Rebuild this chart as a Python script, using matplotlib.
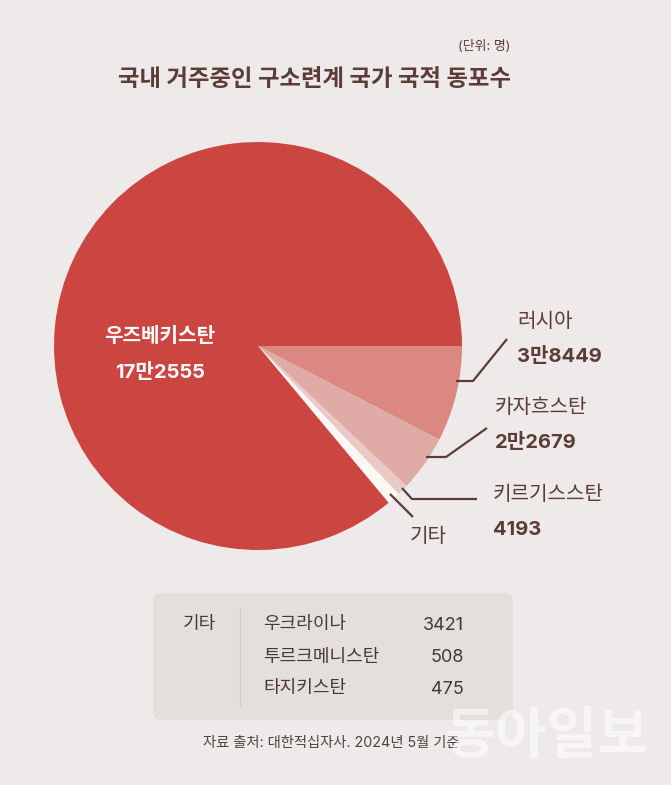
import matplotlib
matplotlib.use("Agg")
import matplotlib.pyplot as plt
from matplotlib.patches import FancyBboxPatch

plt.rcParams['font.family'] = ['Inter', 'Noto Sans CJK KR', 'DejaVu Sans']

# 데이터
countries = ['러시아', '카자흐스탄', '키르기스스탄', '기타', '우즈베키스탄']
counts = ['3만8449', '2만2679', '4193', '4404', '17만2555']
# 그림에서 읽은 조각 각도(도)
slice_deg = [27.3, 16.0, 3.2, 3.7, 309.8]
colors = ['#DB8882', '#E0AAA6', '#E9CAC7', '#FDF8F6', '#CB4641']

etc_names = ['우크라이나', '투르크메니스탄', '타지키스탄']
etc_counts = [3421, 508, 475]

W, H = 671, 785
bg = '#EEEAE9'
brown = '#5C3C36'

fig = plt.figure(figsize=(W / 100, H / 100), dpi=100, facecolor=bg)
ax = fig.add_axes([0, 0, 1, 1])
ax.set_facecolor(bg)


def Y(y):
    return H - y


ax.pie(slice_deg, colors=colors, startangle=0, counterclock=False,
       center=(258, Y(346)), radius=204,
       wedgeprops=dict(edgecolor='none', linewidth=0))
ax.set_xlim(0, W)
ax.set_ylim(0, H)
ax.set_aspect('equal')
ax.axis('off')

# 제목
ax.text(315, Y(80), '국내 거주중인 구소련계 국가 국적 동포수', ha='center', va='center',
        fontsize=16.8, fontweight='bold', color=brown)
ax.text(510, Y(47), '(단위: 명)', ha='right', va='center', fontsize=9.3, color=brown)

# 우즈베키스탄 라벨
ax.text(160, Y(336), countries[4], ha='center', va='center', fontsize=14.5,
        fontweight='bold', color='white')
ax.text(160, Y(372), counts[4], ha='center', va='center', fontsize=14.5,
        fontweight='bold', color='white')

# 오른쪽 라벨
label_pos = [(517, 322), (495, 408), (493, 495)]
for (x, y), name, cnt in zip(label_pos, countries[:3], counts[:3]):
    ax.text(x, Y(y), name, ha='left', va='center', fontsize=14.5,
            fontweight='medium', color=brown)
    ax.text(x, Y(y + 35), cnt, ha='left', va='center', fontsize=14.5,
            fontweight='bold', color=brown)
ax.text(410, Y(537), '기타', ha='left', va='center', fontsize=14.5, color=brown)

# 지시선
leaders = [
    [(456, 381), (473, 381), (507, 339)],
    [(426, 457), (446, 457), (487, 428)],
    [(402, 488), (412, 499), (477, 499)],
    [(390, 494), (413, 517)],
]
for pts in leaders:
    xs = [p[0] for p in pts]
    ys = [Y(p[1]) for p in pts]
    ax.plot(xs, ys, color=brown, lw=1.6, solid_capstyle='butt')

# 기타 상자
box = FancyBboxPatch((153, Y(720)), 360, 127, boxstyle='round,pad=0,rounding_size=8',
                     facecolor='#E3DFDB', edgecolor='none')
ax.add_patch(box)
ax.text(183, Y(625), '기타', ha='left', va='center', fontsize=13, color='#4A3733')
ax.plot([240, 240], [Y(608), Y(705)], color='#D2CCC8', lw=1)
for i, (nm, c) in enumerate(zip(etc_names, etc_counts)):
    yy = Y(625 + i * 32)
    ax.text(263, yy, nm, ha='left', va='center', fontsize=13, color='#4A3733')
    ax.text(464, yy, str(c), ha='right', va='center', fontsize=13, color='#4A3733')

# 출처
ax.text(203, Y(743), '자료 출처: 대한적십자사. 2024년 5월 기준', ha='left', va='center',
        fontsize=10.3, color='#4E4442')

# 워터마크
ax.text(547, Y(738), '동아일보', ha='center', va='center', fontsize=40,
        fontweight='bold', color='white', alpha=0.55)

fig.savefig('out.png', dpi=100, facecolor=bg)
